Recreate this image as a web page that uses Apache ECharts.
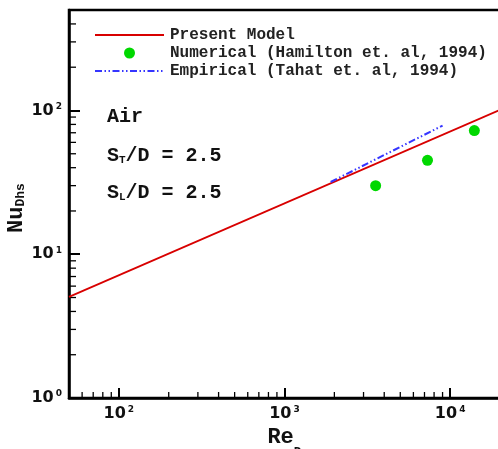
<!DOCTYPE html>
<html>
<head>
<meta charset="utf-8">
<script src="https://cdn.jsdelivr.net/npm/echarts@6/dist/echarts.min.js"></script>
<style>
  html, body { margin: 0; padding: 0; background: #fff; }
  #main { width: 498px; height: 449px; }
</style>
</head>
<body>
<div id="main"></div>
<script>
// Present model (straight line on log-log, end points)
const modelRe = [50, 20000];
const modelNu = [5.05, 101];
// Numerical (Hamilton et. al, 1994)
const numRe = [3550, 7300, 14000];
const numNu = [30, 45, 72.5];
// Empirical (Tahat et. al, 1994)
const empRe = [1900, 9000];
const empNu = [31.8, 78.5];

// decade labels and minor tick values
const xDecades = [100, 1000, 10000];
const yDecades = [1, 10, 100];
const xMinor = [60, 70, 80, 90, 200, 300, 400, 500, 600, 700, 800, 900,
  2000, 3000, 4000, 5000, 6000, 7000, 8000, 9000];
const yMinor = [2, 3, 4, 5, 6, 7, 8, 9, 20, 30, 40, 50, 60, 70, 80, 90, 200, 300, 400];

const zip = (a, b) => a.map((v, i) => [v, b[i]]);
const mono = 'Liberation Mono, Courier New, monospace';
const sans = 'DejaVu Sans, Arial, sans-serif';

const powLabel = decades => v => {
    const e = Math.round(Math.log10(v));
    const hit = decades.some(d => Math.abs(d - v) / d < 1e-6);
    return hit ? '{b|10}{s|' + e + '}' : '';
};
const labelRich = {
    b: { fontFamily: sans, fontWeight: 'bold', fontSize: 16, lineHeight: 17, color: '#111' },
    s: { fontFamily: sans, fontWeight: 'bold', fontSize: 9, lineHeight: 9, verticalAlign: 'top', color: '#111', padding: [0, 0, 0, 2] }
};

const chart = echarts.init(document.getElementById('main'));
const option = {
    animation: false,
    backgroundColor: '#fff',
    grid: {
        left: 69, top: 10, width: 431, height: 388,
        containLabel: false, outerBoundsMode: 'none',
        show: true, borderColor: '#000', borderWidth: 2.5, backgroundColor: 'transparent'
    },
    legend: {
        orient: 'vertical',
        left: 89, top: 22,
        itemWidth: 69, itemHeight: 11, itemGap: 2,
        textStyle: { fontFamily: mono, fontWeight: 'bold', fontSize: 16, lineHeight: 16, color: '#222', padding: [0, 0, 0, 1] },
        data: [
            { name: 'Present Model', itemStyle: { opacity: 0 } },
            { name: 'Numerical (Hamilton et. al, 1994)' },
            { name: 'Empirical (Tahat et. al, 1994)', itemStyle: { opacity: 0 } }
        ]
    },
    xAxis: {
        type: 'log', logBase: 10, min: 50, max: 20000,
        name: '{m|Re}{sub|D}',
        nameLocation: 'middle', nameGap: 28, nameMoveOverlap: false,
        nameTextStyle: {
            rich: {
                m: { fontFamily: mono, fontWeight: 'bold', fontSize: 22, lineHeight: 22, color: '#111' },
                sub: { fontFamily: mono, fontWeight: 'bold', fontSize: 13, lineHeight: 8, verticalAlign: 'top', padding: [20, 0, 0, 0], color: '#111' }
            }
        },
        axisLine: { onZero: false, lineStyle: { color: '#000', width: 2.5 } },
        axisTick: { inside: true, length: 10, lineStyle: { color: '#000', width: 2 } },
        axisLabel: { formatter: powLabel(xDecades), rich: labelRich, margin: 7 },
        splitLine: { show: false }
    },
    yAxis: {
        type: 'log', logBase: 10, min: 1, max: 500,
        axisLine: { lineStyle: { color: '#000', width: 2.5 } },
        axisTick: { inside: true, length: 11, lineStyle: { color: '#000', width: 2 } },
        axisLabel: { formatter: powLabel(yDecades), rich: labelRich, margin: 7 },
        splitLine: { show: false }
    },
    series: [
        {
            name: 'Present Model',
            type: 'line',
            data: zip(modelRe, modelNu),
            symbol: 'none',
            lineStyle: { color: '#d80000', width: 1.8 },
            itemStyle: { color: '#d80000' }
        },
        {
            name: 'Numerical (Hamilton et. al, 1994)',
            type: 'scatter',
            data: zip(numRe, numNu),
            symbol: 'circle',
            symbolSize: 11,
            itemStyle: { color: '#00d800', opacity: 1 }
        },
        {
            name: 'Empirical (Tahat et. al, 1994)',
            type: 'line',
            data: zip(empRe, empNu),
            symbol: 'none',
            lineStyle: { color: '#3535ff', width: 2, type: [7, 2.5, 1.5, 2.5, 1.5, 2.5] },
            itemStyle: { color: '#3535ff' }
        }
    ]
};
chart.setOption(option);

// minor ticks for the log axes (positions come from the chart's own scales)
const x0 = chart.convertToPixel({ xAxisIndex: 0 }, 50);
const yBase = chart.convertToPixel({ yAxisIndex: 0 }, 1);
const minorTicks = [];
xMinor.forEach(v => {
    const px = chart.convertToPixel({ xAxisIndex: 0 }, v);
    minorTicks.push({ type: 'line', silent: true,
        shape: { x1: px, y1: yBase, x2: px, y2: yBase - 6 },
        style: { stroke: '#000', lineWidth: 1.3 } });
});
yMinor.forEach(v => {
    const py = chart.convertToPixel({ yAxisIndex: 0 }, v);
    minorTicks.push({ type: 'line', silent: true,
        shape: { x1: x0, y1: py, x2: x0 + 7, y2: py },
        style: { stroke: '#000', lineWidth: 1.3 } });
});

const noteRich = {
    m: { fontFamily: mono, fontWeight: 'bold', fontSize: 20, lineHeight: 20, fill: '#111' },
    sub: { fontFamily: mono, fontWeight: 'bold', fontSize: 11, lineHeight: 14, verticalAlign: 'bottom', fill: '#111' }
};
const notes = [
    { text: '{m|Air}', y: 117 },
    { text: '{m|S}{sub|T}{m|/D = 2.5}', y: 156 },
    { text: '{m|S}{sub|L}{m|/D = 2.5}', y: 193 }
].map(n => ({
    type: 'text', silent: true, x: 107, y: n.y,
    style: { text: n.text, rich: noteRich, verticalAlign: 'middle', textAlign: 'left' }
}));

// y axis title, rotated
const yTitle = {
    type: 'text', silent: true, x: 16, y: 208, rotation: Math.PI / 2,
    style: {
        text: '{m|Nu}{sub|Dhs}', textAlign: 'center', verticalAlign: 'middle',
        rich: {
            m: { fontFamily: mono, fontWeight: 'bold', fontSize: 22, lineHeight: 22, fill: '#111' },
            sub: { fontFamily: mono, fontWeight: 'bold', fontSize: 13, lineHeight: 12, verticalAlign: 'bottom', fill: '#111' }
        }
    }
};

chart.setOption({ graphic: minorTicks.concat(notes, [yTitle]) });
</script>
</body>
</html>
